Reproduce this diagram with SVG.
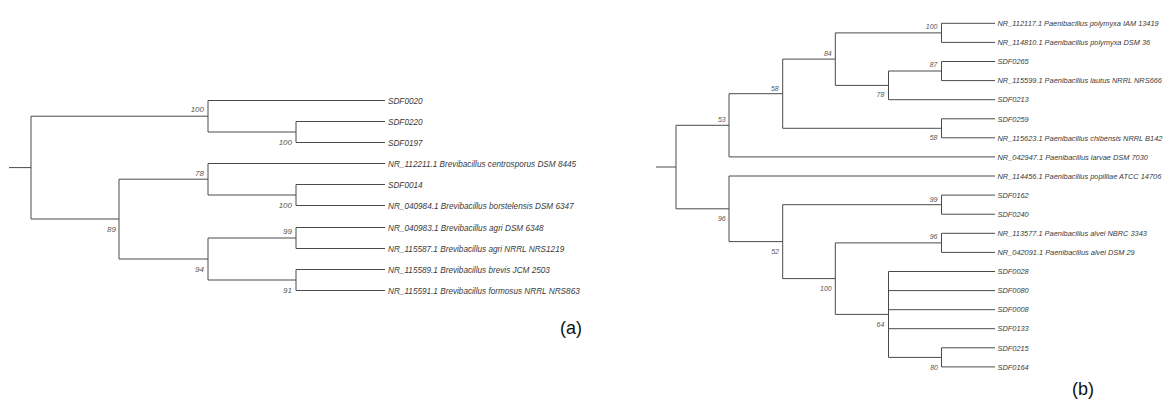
<svg xmlns="http://www.w3.org/2000/svg" width="1163" height="401" viewBox="0 0 1163 401">
<style>
.br{fill:none;stroke:#4a4a4a;stroke-width:1}
.la{font-family:"Liberation Sans",Arial,sans-serif;font-style:italic;font-size:8.2px;fill:#3a3a3a}
.lb{font-family:"Liberation Sans",Arial,sans-serif;font-style:italic;font-size:7.4px;fill:#3a3a3a}
.ba{font-family:"Liberation Sans",Arial,sans-serif;font-style:italic;font-size:8px;fill:#555;text-anchor:end}
.bb{font-family:"Liberation Sans",Arial,sans-serif;font-style:italic;font-size:7px;fill:#555;text-anchor:end}
.cap{font-family:"Liberation Sans",Arial,sans-serif;font-size:18px;fill:#111;text-anchor:middle}
</style>
<rect width="1163" height="401" fill="#fff"/>

<g id="connectors">
<!-- tree a -->
<path class="br" d="M9 167.6H31 M31 116.2V219 M31 116.2H208 M31 219H119
M208 100.5V132 M208 100.5H385 M208 132H296 M296 121.5V142.5 M296 121.5H385 M296 142.5H385
M119 179.2V259 M119 179.2H208 M119 259H208
M208 163.5V195 M208 163.5H385 M208 195H296 M296 184.5V205.5 M296 184.5H385 M296 205.5H385
M208 238V280 M208 238H296 M208 280H296
M296 227.5V248.5 M296 227.5H385 M296 248.5H385
M296 269.5V290.5 M296 269.5H385 M296 290.5H385"/>
<!-- tree b -->
<path class="br" d="M656 167H676 M676 125.3V208.8 M676 125.3H729 M676 208.8H729
M729 93.7V156.9 M729 93.7H782.7 M729 156.9H995
M782.7 59.1V128.3 M782.7 59.1H835.3 M782.7 128.3H941.5
M835.3 32.9V85.4 M835.3 32.9H941.5 M835.3 85.4H888.5
M941.5 23.3V42.4 M941.5 23.3H995 M941.5 42.4H995
M888.5 71V99.7 M888.5 71H941.5 M888.5 99.7H995
M941.5 61.5V80.6 M941.5 61.5H995 M941.5 80.6H995
M941.5 118.8V137.8 M941.5 118.8H995 M941.5 137.8H995
M729 176V241.6 M729 176H995 M729 241.6H782.7
M782.7 204.7V278.6 M782.7 204.7H941.5 M782.7 278.6H835.3
M941.5 195.1V214.2 M941.5 195.1H995 M941.5 214.2H995
M835.3 242.9V314.4 M835.3 242.9H941.5 M835.3 314.4H888.5
M941.5 233.3V252.4 M941.5 233.3H995 M941.5 252.4H995
M888.5 271.5V357.4 M888.5 271.5H995 M888.5 290.6H995 M888.5 309.7H995 M888.5 328.7H995 M888.5 357.4H941.5
M941.5 347.8V366.9 M941.5 347.8H995 M941.5 366.9H995"/>
</g>

<!-- tree a leaves -->
<g id="a-SDF0020"><text class="la" x="388" y="103.5">SDF0020</text></g>
<g id="a-SDF0220"><text class="la" x="388" y="124.5">SDF0220</text></g>
<g id="a-SDF0197"><text class="la" x="388" y="145.5">SDF0197</text></g>
<g id="a-NR112211"><text class="la" x="388" y="166.5">NR_112211.1 Brevibacillus centrosporus DSM 8445</text></g>
<g id="a-SDF0014"><text class="la" x="388" y="187.5">SDF0014</text></g>
<g id="a-NR040984"><text class="la" x="388" y="208.5">NR_040984.1 Brevibacillus borstelensis DSM 6347</text></g>
<g id="a-NR040983"><text class="la" x="388" y="230.5">NR_040983.1 Brevibacillus agri DSM 6348</text></g>
<g id="a-NR115587"><text class="la" x="388" y="251.5">NR_115587.1 Brevibacillus agri NRRL NRS1219</text></g>
<g id="a-NR115589"><text class="la" x="388" y="272.5">NR_115589.1 Brevibacillus brevis JCM 2503</text></g>
<g id="a-NR115591"><text class="la" x="388" y="293.5">NR_115591.1 Brevibacillus formosus NRRL NRS863</text></g>

<!-- tree a internal nodes -->
<g id="a-n100-top"><text class="ba" x="204" y="112">100</text></g>
<g id="a-n100-sdf"><text class="ba" x="292" y="145">100</text></g>
<g id="a-n78"><text class="ba" x="204" y="176">78</text></g>
<g id="a-n100-bor"><text class="ba" x="292" y="208">100</text></g>
<g id="a-n89"><text class="ba" x="116" y="232">89</text></g>
<g id="a-n99"><text class="ba" x="292" y="234">99</text></g>
<g id="a-n94"><text class="ba" x="204" y="272">94</text></g>
<g id="a-n91"><text class="ba" x="292" y="293">91</text></g>
<g id="label-a"><text class="cap" x="571" y="334">(a)</text></g>

<!-- tree b leaves -->
<g id="b-NR112117"><text class="lb" x="997.5" y="26">NR_112117.1 Paenibacillus polymyxa IAM 13419</text></g>
<g id="b-NR114810"><text class="lb" x="997.5" y="45.1">NR_114810.1 Paenibacillus polymyxa DSM 36</text></g>
<g id="b-SDF0265"><text class="lb" x="997.5" y="64.2">SDF0265</text></g>
<g id="b-NR115599"><text class="lb" x="997.5" y="83.3">NR_115599.1 Paenibacillus lautus NRRL NRS666</text></g>
<g id="b-SDF0213"><text class="lb" x="997.5" y="102.4">SDF0213</text></g>
<g id="b-SDF0259"><text class="lb" x="997.5" y="121.5">SDF0259</text></g>
<g id="b-NR115623"><text class="lb" x="997.5" y="140.5">NR_115623.1 Paenibacillus chibensis NRRL B142</text></g>
<g id="b-NR042947"><text class="lb" x="997.5" y="159.6">NR_042947.1 Paenibacillus larvae DSM 7030</text></g>
<g id="b-NR114456"><text class="lb" x="997.5" y="178.7">NR_114456.1 Paenibacillus popilliae ATCC 14706</text></g>
<g id="b-SDF0162"><text class="lb" x="997.5" y="197.8">SDF0162</text></g>
<g id="b-SDF0240"><text class="lb" x="997.5" y="216.9">SDF0240</text></g>
<g id="b-NR113577"><text class="lb" x="997.5" y="236">NR_113577.1 Paenibacillus alvei NBRC 3343</text></g>
<g id="b-NR042091"><text class="lb" x="997.5" y="255.1">NR_042091.1 Paenibacillus alvei DSM 29</text></g>
<g id="b-SDF0028"><text class="lb" x="997.5" y="274.2">SDF0028</text></g>
<g id="b-SDF0080"><text class="lb" x="997.5" y="293.3">SDF0080</text></g>
<g id="b-SDF0008"><text class="lb" x="997.5" y="312.4">SDF0008</text></g>
<g id="b-SDF0133"><text class="lb" x="997.5" y="331.4">SDF0133</text></g>
<g id="b-SDF0215"><text class="lb" x="997.5" y="350.5">SDF0215</text></g>
<g id="b-SDF0164"><text class="lb" x="997.5" y="369.6">SDF0164</text></g>

<!-- tree b internal nodes -->
<g id="b-n100-poly"><text class="bb" x="937.5" y="29">100</text></g>
<g id="b-n84"><text class="bb" x="831.7" y="56">84</text></g>
<g id="b-n87"><text class="bb" x="937.5" y="67">87</text></g>
<g id="b-n78"><text class="bb" x="884.3" y="96.7">78</text></g>
<g id="b-n58-outer"><text class="bb" x="778.7" y="90.5">58</text></g>
<g id="b-n58-inner"><text class="bb" x="937.5" y="140">58</text></g>
<g id="b-n53"><text class="bb" x="725.7" y="121.7">53</text></g>
<g id="b-n99"><text class="bb" x="937.5" y="202">99</text></g>
<g id="b-n96-alvei"><text class="bb" x="937.5" y="238.7">96</text></g>
<g id="b-n96"><text class="bb" x="725.7" y="221">96</text></g>
<g id="b-n52"><text class="bb" x="779" y="254">52</text></g>
<g id="b-n100-sdf"><text class="bb" x="831.7" y="291">100</text></g>
<g id="b-n64"><text class="bb" x="884.3" y="327">64</text></g>
<g id="b-n80"><text class="bb" x="938" y="369.5">80</text></g>
<g id="label-b"><text class="cap" x="1083" y="395">(b)</text></g>
</svg>
